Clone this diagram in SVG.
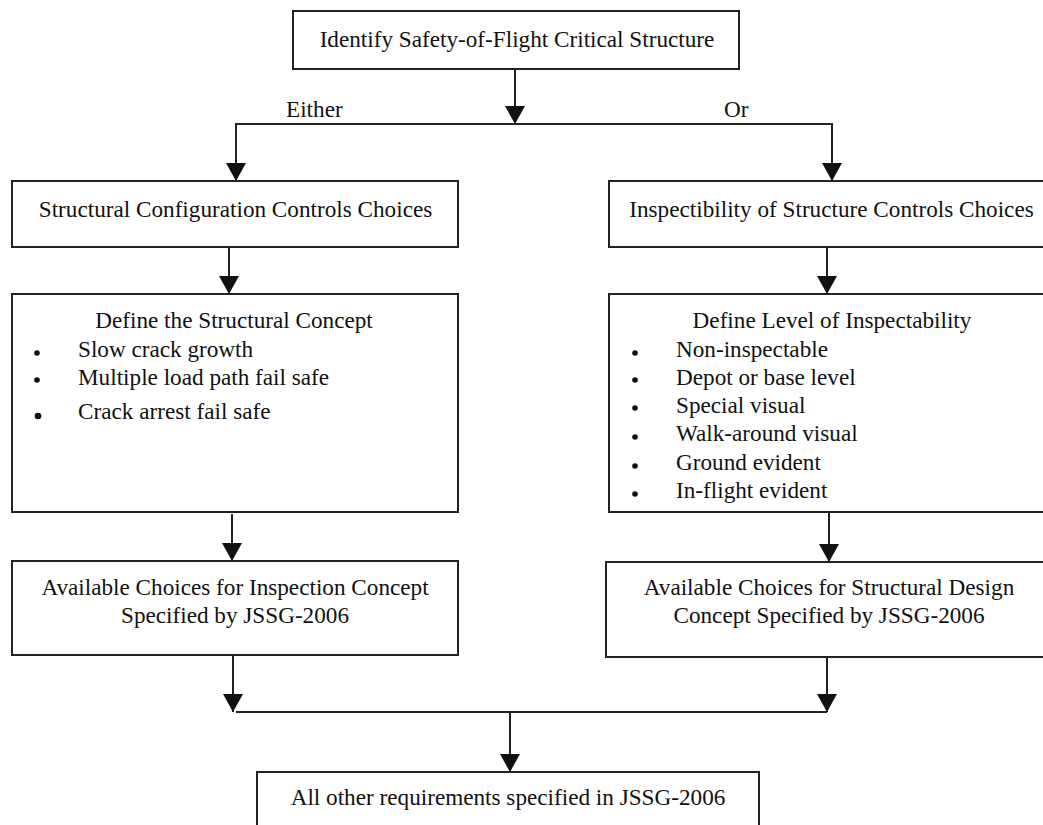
<svg xmlns="http://www.w3.org/2000/svg" width="1043" height="825" viewBox="0 0 1043 825">
<style>
.box{fill:#fff;stroke:#222;stroke-width:2}
.t{font-family:"Liberation Serif","Times New Roman",serif;font-size:23.2px;fill:#111}
.c{text-anchor:middle}
.ln{fill:none;stroke:#222;stroke-width:2}
.dot{fill:#111}
</style>
<defs>
<marker id="ah" markerUnits="userSpaceOnUse" markerWidth="18" markerHeight="20" viewBox="0 0 18 20" refX="18" refY="10" orient="auto">
<path d="M0,0 L18,10 L0,20 Z" fill="#111"/>
</marker>
</defs>
<rect width="1043" height="825" fill="#fff"/>
<g id="connectors">
<line class="ln" x1="515" y1="69" x2="515" y2="124" marker-end="url(#ah)"/>
<line class="ln" x1="235" y1="124" x2="833" y2="124"/>
<line class="ln" x1="236" y1="124" x2="236" y2="181" marker-end="url(#ah)"/>
<line class="ln" x1="832" y1="124" x2="832" y2="181" marker-end="url(#ah)"/>
<line class="ln" x1="229" y1="247" x2="229" y2="294" marker-end="url(#ah)"/>
<line class="ln" x1="827" y1="247" x2="827" y2="294" marker-end="url(#ah)"/>
<line class="ln" x1="232" y1="514" x2="232" y2="561" marker-end="url(#ah)"/>
<line class="ln" x1="829" y1="512" x2="829" y2="562" marker-end="url(#ah)"/>
<line class="ln" x1="233" y1="655" x2="233" y2="712" marker-end="url(#ah)"/>
<line class="ln" x1="827" y1="657" x2="827" y2="712" marker-end="url(#ah)"/>
<line class="ln" x1="236" y1="712" x2="827" y2="712"/>
<line class="ln" x1="510" y1="712" x2="510" y2="772" marker-end="url(#ah)"/>
<text class="t" x="286" y="117">Either</text>
<text class="t" x="724" y="117">Or</text>
</g>
<g id="n-identify">
<rect class="box" x="293" y="11" width="446" height="58"/>
<text class="t c" x="517" y="47">Identify Safety-of-Flight Critical Structure</text>
</g>
<g id="n-config">
<rect class="box" x="12" y="181" width="446" height="66"/>
<text class="t c" x="235.5" y="217">Structural Configuration Controls Choices</text>
</g>
<g id="n-inspect">
<rect class="box" x="609" y="181" width="440" height="66"/>
<text class="t c" x="831.5" y="217">Inspectibility of Structure Controls Choices</text>
</g>
<g id="n-concept">
<rect class="box" x="12" y="294" width="446" height="218"/>
<text class="t c" x="234" y="328">Define the Structural Concept</text>
<circle class="dot" cx="37" cy="353" r="2.8"/>
<circle class="dot" cx="37" cy="380" r="2.8"/>
<circle class="dot" cx="38" cy="416" r="3.3"/>
<text class="t" x="78" y="357">Slow crack growth</text>
<text class="t" x="78" y="385">Multiple load path fail safe</text>
<text class="t" x="78" y="419">Crack arrest fail safe</text>
</g>
<g id="n-level">
<rect class="box" x="609" y="294" width="440" height="218"/>
<text class="t c" x="832" y="328">Define Level of Inspectability</text>
<circle class="dot" cx="635" cy="353" r="2.8"/>
<circle class="dot" cx="635" cy="380" r="2.8"/>
<circle class="dot" cx="635" cy="408" r="2.8"/>
<circle class="dot" cx="635" cy="437" r="2.8"/>
<circle class="dot" cx="635" cy="466" r="2.8"/>
<circle class="dot" cx="635" cy="494" r="2.8"/>
<text class="t" x="676" y="357">Non-inspectable</text>
<text class="t" x="676" y="385">Depot or base level</text>
<text class="t" x="676" y="413">Special visual</text>
<text class="t" x="676" y="441">Walk-around visual</text>
<text class="t" x="676" y="470">Ground evident</text>
<text class="t" x="676" y="498">In-flight evident</text>
</g>
<g id="n-insp-choices">
<rect class="box" x="12" y="561" width="446" height="94"/>
<text class="t c" x="235" y="595">Available Choices for Inspection Concept</text>
<text class="t c" x="235" y="623">Specified by JSSG-2006</text>
</g>
<g id="n-design-choices">
<rect class="box" x="606" y="562" width="443" height="95"/>
<text class="t c" x="829" y="595">Available Choices for Structural Design</text>
<text class="t c" x="829" y="623">Concept Specified by JSSG-2006</text>
</g>
<g id="n-other">
<rect class="box" x="257" y="772" width="502" height="60"/>
<text class="t c" x="508" y="805">All other requirements specified in JSSG-2006</text>
</g>
</svg>
